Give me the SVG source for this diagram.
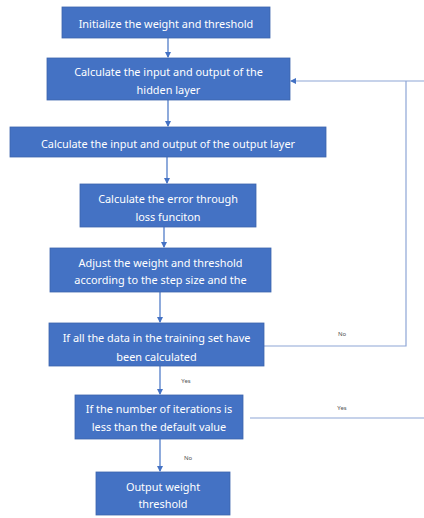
<svg xmlns="http://www.w3.org/2000/svg" width="424" height="518" viewBox="0 0 424 518">
<defs>
<marker id="ah" markerWidth="6" markerHeight="6" refX="5" refY="3" orient="auto" markerUnits="userSpaceOnUse">
<path d="M0,0 L6,3 L0,6 z" fill="#4472c4"/>
</marker>
<style>
.box{fill:#4472c4;stroke:#3c64ad;stroke-width:0.8}
.t{font-family:"Noto Sans","Open Sans",sans-serif;font-size:10.9px;fill:#ffffff;text-anchor:middle}
.lbl{font-family:"Noto Sans","Open Sans",sans-serif;font-size:6px;fill:#555555;text-anchor:middle}
.arr{stroke:#4472c4;stroke-width:1.2;fill:none}
.fb{stroke:#8ea6d6;stroke-width:1.2;fill:none}
</style>
</defs>
<rect width="424" height="518" fill="#ffffff"/>
<g id="connectors">
<line class="arr" x1="168" y1="38" x2="168" y2="57" marker-end="url(#ah)"/>
<line class="arr" x1="168" y1="100" x2="168" y2="126" marker-end="url(#ah)"/>
<line class="arr" x1="167" y1="157" x2="167" y2="183" marker-end="url(#ah)"/>
<line class="arr" x1="164" y1="227" x2="164" y2="247" marker-end="url(#ah)"/>
<line class="arr" x1="160" y1="292" x2="160" y2="322" marker-end="url(#ah)"/>
<line class="arr" x1="160" y1="366" x2="160" y2="394" marker-end="url(#ah)"/>
<line class="arr" x1="160" y1="439" x2="160" y2="471" marker-end="url(#ah)"/>
<polyline class="fb" points="264,346 406,346 406,81"/>
<line class="fb" x1="424" y1="81" x2="291" y2="81" marker-end="url(#ah)"/>
<line class="fb" x1="250" y1="418" x2="424" y2="418"/>
<text class="lbl" x="342" y="336">No</text>
<text class="lbl" x="342" y="410">Yes</text>
<text class="lbl" x="186" y="383">Yes</text>
<text class="lbl" x="188" y="460">No</text>
</g>
<g id="n1">
<rect class="box" x="62" y="7" width="208" height="31"/>
<text class="t" x="166" y="27.5">Initialize the weight and threshold</text>
</g>
<g id="n2">
<rect class="box" x="47" y="58" width="243" height="42"/>
<text class="t" x="168.5" y="75.5">Calculate the input and output of the</text>
<text class="t" x="168.5" y="93.5">hidden layer</text>
</g>
<g id="n3">
<rect class="box" x="10" y="127" width="316" height="30"/>
<text class="t" x="168" y="147.5">Calculate the input and output of the output layer</text>
</g>
<g id="n4">
<rect class="box" x="80" y="184" width="176" height="43"/>
<text class="t" x="168" y="202.5">Calculate the error through</text>
<text class="t" x="168" y="220.5">loss funciton</text>
</g>
<g id="n5">
<rect class="box" x="50" y="248" width="221" height="44"/>
<text class="t" x="160.5" y="266.5">Adjust the weight and threshold</text>
<text class="t" x="160.5" y="283.5">according to the step size and the</text>
</g>
<g id="n6">
<rect class="box" x="49" y="323" width="215" height="43"/>
<text class="t" x="156.5" y="341.5">If all the data in the training set have</text>
<text class="t" x="156.5" y="360.5">been calculated</text>
</g>
<g id="n7">
<rect class="box" x="75" y="395" width="168" height="44"/>
<text class="t" x="159" y="412.5">If the number of iterations is</text>
<text class="t" x="159" y="430.5">less than the default value</text>
</g>
<g id="n8">
<rect class="box" x="96" y="472" width="134" height="43"/>
<text class="t" x="163" y="490.5">Output weight</text>
<text class="t" x="163" y="507.5">threshold</text>
</g>
</svg>
